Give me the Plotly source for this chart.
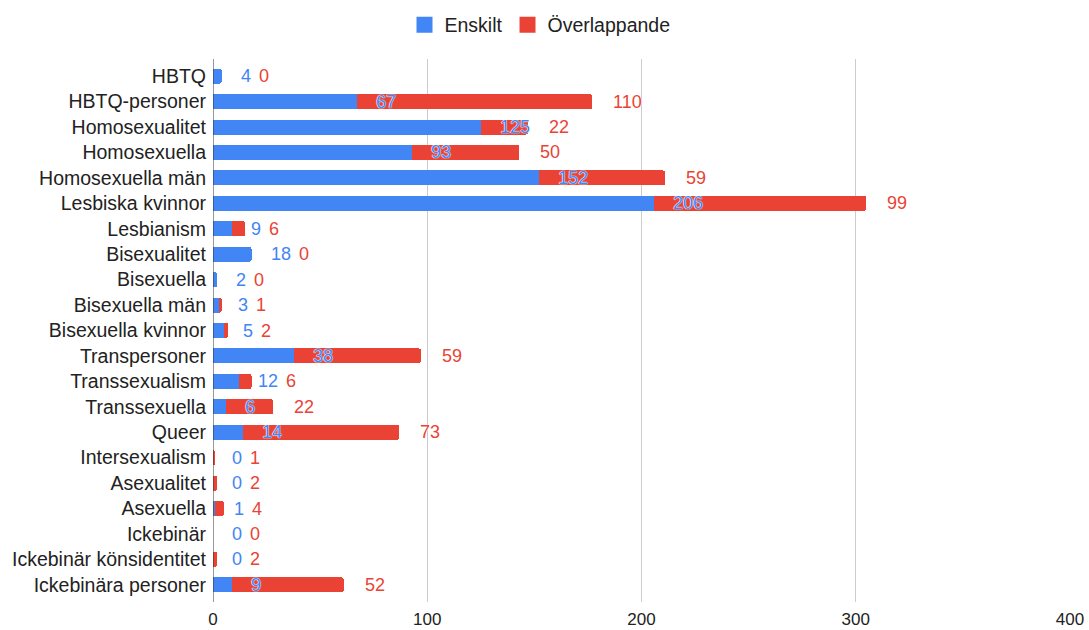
import plotly.graph_objects as go

categories = ["HBTQ", "HBTQ-personer", "Homosexualitet", "Homosexuella", "Homosexuella män",
              "Lesbiska kvinnor", "Lesbianism", "Bisexualitet", "Bisexuella", "Bisexuella män",
              "Bisexuella kvinnor", "Transpersoner", "Transsexualism", "Transsexuella", "Queer",
              "Intersexualism", "Asexualitet", "Asexuella", "Ickebinär", "Ickebinär könsidentitet",
              "Ickebinära personer"]
enskilt = [4, 67, 125, 93, 152, 206, 9, 18, 2, 3, 5, 38, 12, 6, 14, 0, 0, 1, 0, 0, 9]
overlappande = [0, 110, 22, 50, 59, 99, 6, 0, 0, 1, 2, 59, 6, 22, 73, 1, 2, 4, 0, 2, 52]
x_ticks = [0, 100, 200, 300, 400]

BLUE = "#4285F4"
RED = "#EA4335"
TXT = "#222222"
FONT = "Liberation Sans, Arial, sans-serif"

W, H = 1089, 630
ML, MR, MT, MB = 213, 19, 59, 28
XMAX = 400
pxu = (W - ML - MR) / XMAX
digit_w = 10.0

fig = go.Figure()
fig.add_trace(go.Bar(y=categories, x=enskilt, orientation="h", name="Enskilt",
                     marker=dict(color=BLUE, line=dict(width=0)), showlegend=False))
fig.add_trace(go.Bar(y=categories, x=overlappande, orientation="h", name="Överlappande",
                     marker=dict(color=RED, line=dict(width=0)), showlegend=False))
# legend entries with larger square swatches
for name, col in [("Enskilt", BLUE), ("Överlappande", RED)]:
    fig.add_trace(go.Scatter(x=[None], y=[None], mode="markers", name=name,
                             marker=dict(symbol="square", size=18, color=col),
                             showlegend=True))

halo = "0 0 1px white, 0 0 1px white, 0 0 1px white"
annotations = []
for cat, b, r in zip(categories, enskilt, overlappande):
    total = b + r
    bshift = 17
    annotations.append(dict(x=b, y=cat, xref="x", yref="y", text=str(b), showarrow=False,
                            xanchor="left", xshift=bshift,
                            font=dict(family=FONT, size=18, color=BLUE, shadow=halo)))
    blue_right = b * pxu + bshift + len(str(b)) * digit_w
    rshift = max(19, blue_right + 8 - total * pxu)
    annotations.append(dict(x=total, y=cat, xref="x", yref="y", text=str(r), showarrow=False,
                            xanchor="left", xshift=rshift,
                            font=dict(family=FONT, size=18, color=RED, shadow=halo)))

n = len(categories)
fig.update_layout(
    barmode="stack",
    bargap=0.41,
    barcornerradius=2,
    width=W, height=H,
    margin=dict(l=ML, r=MR, t=MT, b=MB, pad=0),
    paper_bgcolor="white", plot_bgcolor="white",
    font=dict(family=FONT, size=17, color=TXT),
    showlegend=True,
    legend=dict(orientation="h", x=540 / W, xref="container", xanchor="center",
                y=1 - 25 / H, yref="container", yanchor="middle",
                font=dict(family=FONT, size=19.5, color=TXT),
                itemwidth=30, traceorder="normal", itemclick=False),
    xaxis=dict(range=[0, XMAX], tickvals=x_ticks, showgrid=True, gridcolor="#CCCCCC",
               gridwidth=1, zeroline=False, showline=False, ticks="", automargin=False,
               ticklabelstandoff=5,
               tickfont=dict(family=FONT, size=17, color=TXT), fixedrange=True),
    yaxis=dict(categoryorder="array", categoryarray=categories,
               range=[n - 1 + 0.675, -0.675], showgrid=False, zeroline=False,
               showline=False, ticks="", automargin=False, ticklabelstandoff=6,
               tickfont=dict(family=FONT, size=19.5, color=TXT)),
    annotations=annotations,
    shapes=[dict(type="line", xref="x", yref="paper", x0=0, x1=0, y0=0, y1=1,
                 line=dict(color="#333333", width=1))],
)

fig.write_html("out.html", config={"displayModeBar": False},
               post_script="document.body.style.margin='0px';")
